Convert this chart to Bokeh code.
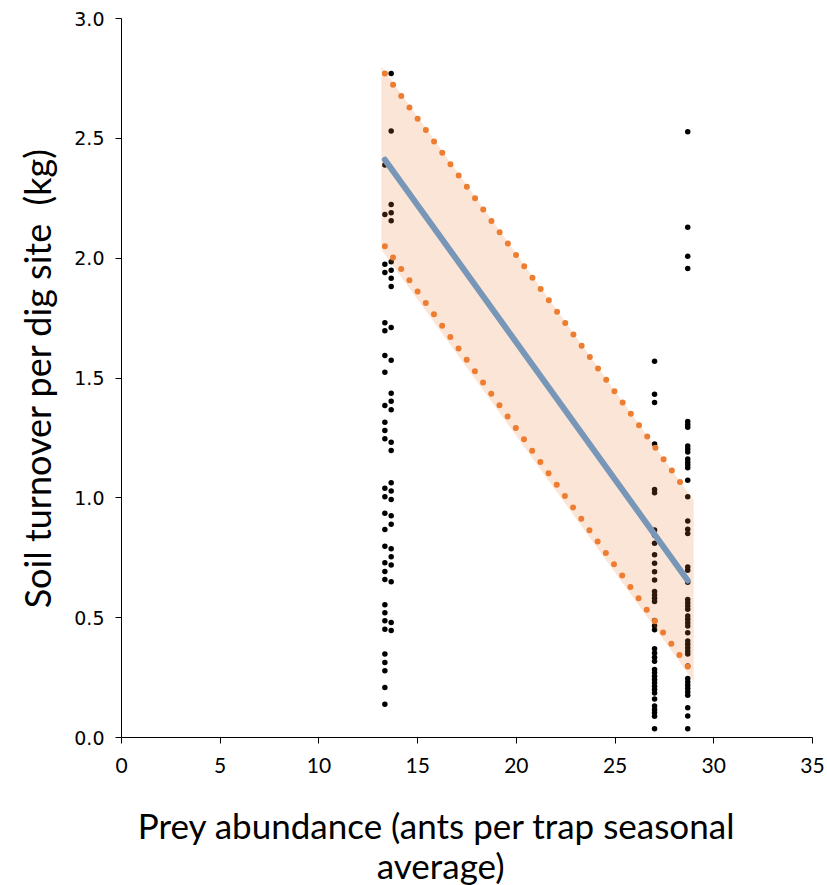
from bokeh.plotting import figure
from bokeh.layouts import column
from bokeh.models import Range1d, FixedTicker, PrintfTickFormatter, ColumnDataSource
from bokeh.core.properties import value
from bokeh.embed import file_html
from bokeh.resources import INLINE

# ---------------- data ----------------
x_ticks = [0, 5, 10, 15, 20, 25, 30, 35]
y_ticks = [0.0, 0.5, 1.0, 1.5, 2.0, 2.5, 3.0]

site_a_x = 13.34
site_a_y = [2.389, 2.182, 1.975, 1.940, 1.731, 1.697, 1.594, 1.524, 1.385, 1.315,
            1.281, 1.247, 1.040, 1.005, 0.936, 0.868, 0.798, 0.729, 0.693, 0.659,
            0.554, 0.520, 0.487, 0.452, 0.348, 0.313, 0.278, 0.209, 0.139]

site_b_x = 13.66
site_b_y = [2.771, 2.531, 2.224, 2.189, 2.156, 1.985, 1.950, 1.916, 1.882, 1.711,
            1.574, 1.436, 1.403, 1.368, 1.232, 1.197, 1.063, 1.028, 0.993, 0.925,
            0.890, 0.788, 0.754, 0.720, 0.650, 0.480, 0.446]

site_c_x = 27.0
site_c_y = [1.570, 1.432, 1.398, 1.225, 1.035, 1.021, 0.866, 0.844, 0.811, 0.762,
            0.727, 0.692, 0.657, 0.609, 0.595, 0.581, 0.567, 0.488, 0.466, 0.450,
            0.370, 0.353, 0.335, 0.318, 0.284, 0.270, 0.256, 0.242, 0.228, 0.214,
            0.200, 0.186, 0.161, 0.131, 0.117, 0.103, 0.089, 0.036]

site_d_x = 28.68
site_d_y = [2.527, 2.129, 2.008, 1.957, 1.318, 1.306, 1.295, 1.216, 1.204, 1.191,
            1.162, 1.150, 1.138, 1.126, 1.073, 1.005, 0.903, 0.869, 0.851, 0.711,
            0.698, 0.648, 0.576, 0.562, 0.549, 0.535, 0.507, 0.493, 0.479, 0.465,
            0.437, 0.403, 0.389, 0.375, 0.361, 0.348, 0.298, 0.246, 0.232, 0.218,
            0.204, 0.190, 0.176, 0.124, 0.090, 0.036]

fit_x = [13.34, 28.68]
fit_y = [2.411, 0.655]
ci_upper = [2.771, 1.022]
ci_lower = [2.050, 0.296]

band_x = [13.17, 28.98]
band_upper = [2.80, 0.99]
band_lower = [2.035, 0.235]

x_title_lines = ["Prey abundance (ants per trap seasonal", "average)"]
y_title = "Soil turnover per dig site\u00a0 (kg)"

# ---------------- main figure ----------------
p = figure(width=827, height=800, output_backend="svg", toolbar_location=None,
           x_range=Range1d(0, 35), y_range=Range1d(0, 3),
           min_border_left=121, min_border_right=15, min_border_top=18,
           min_border_bottom=63)
p.outline_line_color = None
p.xgrid.grid_line_color = None
p.ygrid.grid_line_color = None
p.background_fill_color = "white"
p.border_fill_color = "white"

xs = ([site_a_x] * len(site_a_y) + [site_b_x] * len(site_b_y)
      + [site_c_x] * len(site_c_y) + [site_d_x] * len(site_d_y))
ys = site_a_y + site_b_y + site_c_y + site_d_y
src = ColumnDataSource(dict(x=xs, y=ys))
p.scatter("x", "y", source=src, size=5.5, fill_color="black", line_color=None)

p.varea(x=band_x, y1=band_lower, y2=band_upper, fill_color="#ED7D31", fill_alpha=0.2)

p.line(fit_x, ci_upper, line_color="#ED7D31", line_width=6, line_dash="0 14",
       line_cap="round")
p.line(fit_x, ci_lower, line_color="#ED7D31", line_width=6, line_dash="0 14",
       line_cap="round")
p.line(fit_x, fit_y, line_color="#7896B8", line_width=6, line_cap="round")

for ax in (p.xaxis[0], p.yaxis[0]):
    ax.axis_line_color = "black"
    ax.axis_line_width = 1
    ax.major_tick_line_color = "black"
    ax.major_tick_in = 0
    ax.major_tick_out = 6
    ax.minor_tick_line_color = None
    ax.major_label_text_color = "black"

p.xaxis.ticker = FixedTicker(ticks=x_ticks)
p.yaxis.ticker = FixedTicker(ticks=y_ticks)
p.yaxis.formatter = PrintfTickFormatter(format="%.1f")
p.xaxis.major_label_text_font = "Lato"
p.xaxis.major_label_text_font_size = "21px"
p.xaxis.major_label_standoff = 14
p.yaxis.major_label_text_font = "DejaVu Sans"
p.yaxis.major_label_text_font_size = "19px"
p.yaxis.major_label_standoff = 11

p.yaxis.axis_label = y_title
p.yaxis.axis_label_text_font = "Lato"
p.yaxis.axis_label_text_font_size = "36px"
p.yaxis.axis_label_text_font_style = "normal"
p.yaxis.axis_label_text_color = "black"
p.yaxis.axis_label_standoff = 12

# ---------------- x-axis title strip (two centred lines) ----------------
p2 = figure(width=827, height=85, output_backend="svg", toolbar_location=None,
            x_range=Range1d(0, 827), y_range=Range1d(0, 85),
            x_axis_location=None, y_axis_location=None,
            min_border=0, min_border_left=0, min_border_right=0,
            min_border_top=0, min_border_bottom=0)
p2.outline_line_color = None
p2.grid.grid_line_color = None
p2.xaxis.visible = False
p2.yaxis.visible = False
p2.text(x=[377.5, 382], y=[61, 21], text=x_title_lines, text_align="center",
        text_baseline="alphabetic", text_font=value("Lato"),
        text_font_size="35px", text_color="black")

layout = column(p, p2, spacing=0)
open("out.html", "w").write(file_html(layout, INLINE))
